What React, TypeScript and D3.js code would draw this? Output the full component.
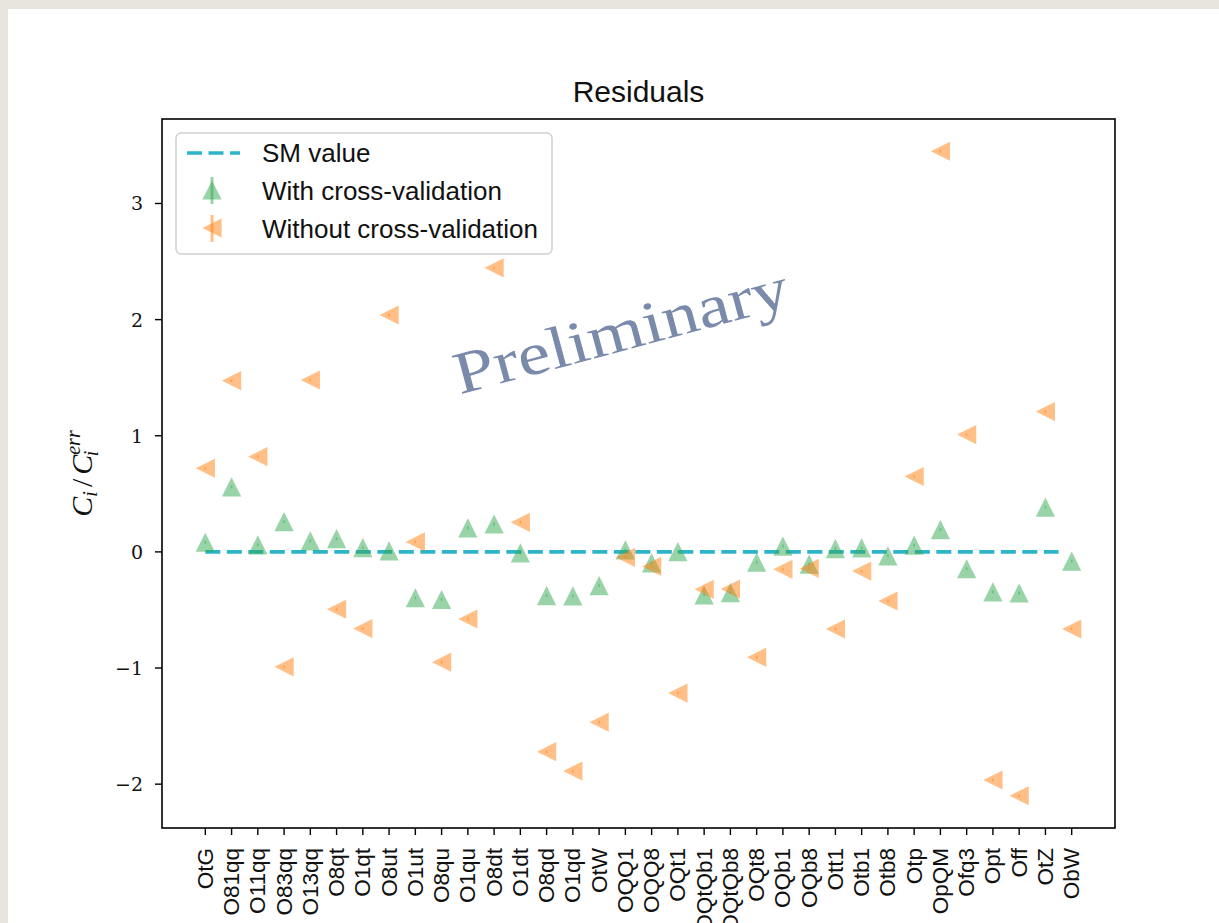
import React from "react";
import * as d3 from "d3";

const categories = ["OtG","O81qq","O11qq","O83qq","O13qq","O8qt","O1qt","O8ut","O1ut","O8qu","O1qu","O8dt","O1dt","O8qd","O1qd","OtW","OQQ1","OQQ8","OQt1","OQtQb1","OQtQb8","OQt8","OQb1","OQb8","Ott1","Otb1","Otb8","Otp","OpQM","Ofq3","Opt","Off","OtZ","ObW"];

const withCV = [0.083,0.56,0.06,0.26,0.095,0.114,0.037,0.009,-0.395,-0.41,0.206,0.24,-0.009,-0.377,-0.378,-0.29,0.017,-0.095,0.003,-0.37,-0.35,-0.089,0.049,-0.105,0.028,0.034,-0.034,0.058,0.192,-0.145,-0.345,-0.354,0.385,-0.079];

const withoutCV = [0.72,1.474,0.82,-0.99,1.48,-0.494,-0.66,2.04,0.086,-0.95,-0.578,2.446,0.255,-1.72,-1.887,-1.466,-0.047,-0.125,-1.216,-0.322,-0.32,-0.907,-0.15,-0.142,-0.664,-0.165,-0.423,0.649,3.45,1.01,-1.964,-2.1,1.208,-0.664];

const errSize = 0.012;
const smLine = [{ x: 0, y: 0 }, { x: 32.5, y: 0 }];
const yTicks = [-2, -1, 0, 1, 2, 3];

const GREEN = "#33a852";
const ORANGE = "#ff7f0e";
const CYAN = "#2eb4c9";

const L = 162, R = 1115, T = 119, B = 828;

export default function App() {
  const n = categories.length;
  const xm = (n - 1) * 0.05;
  const x = d3.scaleLinear().domain([-xm, n - 1 + xm]).range([L, R]);
  const all = withCV.concat(withoutCV);
  const ymin = d3.min(all) as number, ymax = d3.max(all) as number;
  const ym = (ymax - ymin) * 0.05;
  const y = d3.scaleLinear().domain([ymin - ym, ymax + ym]).range([B, T]);
  const line = d3.line<{ x: number; y: number }>().x(d => x(d.x)).y(d => y(d.y));
  const s = 9.6;
  const up = (cx: number, cy: number) => `M${cx},${cy - s}L${cx + s},${cy + s}L${cx - s},${cy + s}Z`;
  const left = (cx: number, cy: number) => `M${cx - s},${cy}L${cx + s},${cy - s}L${cx + s},${cy + s}Z`;
  const sans = "'Liberation Sans', Arial, sans-serif";
  const serif = "'DejaVu Serif', 'Liberation Serif', serif";

  return (
    <div style={{ position: "absolute", left: 0, top: 0, width: 1219, height: 923, background: "#e8e5df", overflow: "hidden" }}>
      <svg width={1219} height={923} style={{ position: "absolute", left: 0, top: 0 }}>
        <rect x={8} y={9} width={1211} height={914} fill="#ffffff" />
        <text x={(L + R) / 2} y={102} textAnchor="middle" fontFamily={sans} fontSize={30} fill="#111">Residuals</text>

        {/* watermark */}
        <text x={626} y={350} textAnchor="middle" fontFamily="'Liberation Serif', serif" fontSize={60}
          fill="#7a8aab" transform="rotate(-15 626 350)" textLength={344} lengthAdjust="spacingAndGlyphs">Preliminary</text>

        {/* SM line */}
        <path d={line(smLine) || ""} fill="none" stroke={CYAN} strokeWidth={3.6} strokeDasharray="15,6.5" />

        {/* green markers */}
        {withCV.map((v, i) => (
          <g key={"g" + i}>
            <path d={up(x(i), y(v))} fill={GREEN} fillOpacity={0.5} />
            <line x1={x(i)} x2={x(i)} y1={y(v - errSize)} y2={y(v + errSize)} stroke={GREEN} strokeOpacity={0.5} strokeWidth={1.5} />
          </g>
        ))}
        {/* orange markers */}
        {withoutCV.map((v, i) => (
          <g key={"o" + i}>
            <path d={left(x(i), y(v))} fill={ORANGE} fillOpacity={0.5} />
            <line x1={x(i)} x2={x(i)} y1={y(v - errSize)} y2={y(v + errSize)} stroke={ORANGE} strokeOpacity={0.5} strokeWidth={1.5} />
          </g>
        ))}

        {/* frame */}
        <rect x={L} y={T} width={R - L} height={B - T} fill="none" stroke="#000" strokeWidth={1.6} />

        {/* y ticks */}
        {yTicks.map(t => (
          <g key={"yt" + t}>
            <line x1={L - 7} x2={L} y1={y(t)} y2={y(t)} stroke="#000" strokeWidth={1.4} />
            <text x={L - 19} y={y(t) + 7} textAnchor="end" fontFamily={serif} fontSize={19} fill="#111">
              {t < 0 ? "\u2212" + Math.abs(t) : String(t)}
            </text>
          </g>
        ))}

        {/* x ticks */}
        {categories.map((c, i) => (
          <g key={"xt" + i}>
            <line x1={x(i)} x2={x(i)} y1={B} y2={B + 7} stroke="#000" strokeWidth={1.4} />
            <text transform={`translate(${x(i) + 7.5},${B + 20}) rotate(-90)`} textAnchor="end" fontFamily={sans} fontSize={22.5} fill="#111">{c}</text>
          </g>
        ))}

        {/* y label */}
        <text transform={`translate(92,${(T + B) / 2}) rotate(-90)`} textAnchor="middle" fontFamily="'Liberation Serif', serif" fontStyle="italic" fontSize={30} fill="#111">
          C<tspan fontSize={20} dy={5}>i</tspan><tspan dy={-5} dx={4} fontStyle="normal">/</tspan><tspan dx={4}>C</tspan><tspan fontSize={20} dy={-12}>err</tspan><tspan fontSize={20} dx={-26} dy={18}>i</tspan>
        </text>

        {/* legend */}
        <rect x={176} y={133} width={376} height={121} rx={5} fill="#fff" fillOpacity={0.85} stroke="#d0d0d0" strokeWidth={1.5} />
        <line x1={187} x2={240} y1={153} y2={153} stroke={CYAN} strokeWidth={3.6} strokeDasharray="15,6.5" />
        <text x={262} y={162} fontFamily={sans} fontSize={26} fill="#111">SM value</text>
        <path d={up(212, 190)} fill={GREEN} fillOpacity={0.5} />
        <line x1={212} x2={212} y1={177} y2={204} stroke={GREEN} strokeOpacity={0.5} strokeWidth={3} />
        <text x={262} y={200} fontFamily={sans} fontSize={26} fill="#111">With cross-validation</text>
        <path d={left(212, 228)} fill={ORANGE} fillOpacity={0.5} />
        <line x1={212} x2={212} y1={215} y2={242} stroke={ORANGE} strokeOpacity={0.5} strokeWidth={3} />
        <text x={262} y={238} fontFamily={sans} fontSize={26} fill="#111">Without cross-validation</text>
      </svg>
    </div>
  );
}
